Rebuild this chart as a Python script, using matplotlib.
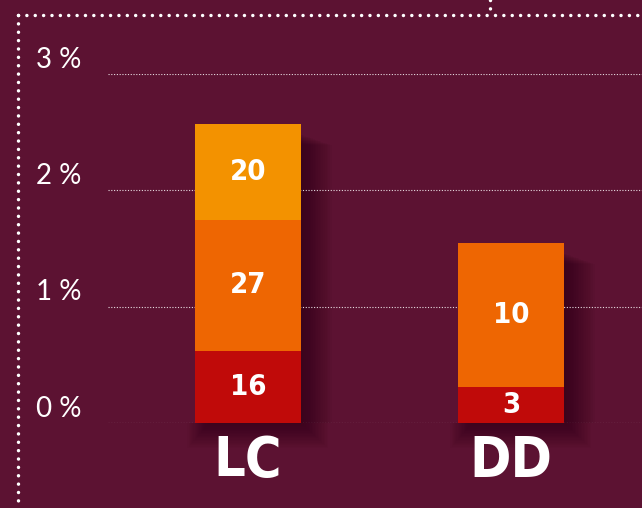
import matplotlib.pyplot as plt
from matplotlib.lines import Line2D
from matplotlib.patches import Rectangle

categories = ["LC", "DD"]
# segment heights in percent (bottom to top) and the counts printed on them
red_pct = [0.62, 0.31]
orange_pct = [1.125, 1.235]
light_pct = [0.82, 0.0]
red_counts = ["16", "3"]
orange_counts = ["27", "10"]
light_counts = ["20", ""]
tick_values = [0, 1, 2, 3]
tick_labels = ["0 %", "1 %", "2 %", "3 %"]

BG = "#5c1232"
RED = "#c00a09"
ORANGE = "#ee6602"
LIGHT = "#f39200"

W, H = 642, 508
XPX, YPX = 263, 116.5   # pixels per data unit
fig = plt.figure(figsize=(W / 100, H / 100), dpi=100, facecolor=BG)

# axes spans from pixel x=108 to the right edge, y from 0% (423px) to 3% (73.5px)
ax = fig.add_axes([108 / W, (H - 423) / H, 1 - 108 / W, (423 - 73.5) / H])
ax.set_facecolor(BG)
ax.set_ylim(0, 3)
ax.set_xlim(-(248 - 108) / XPX, (642 - 248) / XPX)
for s in ax.spines.values():
    s.set_visible(False)
ax.set_xticks([])
ax.set_yticks([])

# dotted gridlines
for v in tick_values:
    ax.axhline(v, color="white", lw=0.8, ls=(0, (1, 1.5)), alpha=0.85, zorder=4)

width = 106 / XPX
x = list(range(len(categories)))

# soft drop shadow to the right of and under each bar
totals = [r + o + l for r, o, l in zip(red_pct, orange_pct, light_pct)]
for xi, top in zip(x, totals):
    right = xi + width / 2
    left = xi - width / 2
    for k in range(1, 19):
        # right side
        ax.add_patch(Rectangle((right, 0), 1.7 * k / XPX, top - (10 + 0.6 * k) / YPX,
                               facecolor="#2a0414", edgecolor="none", alpha=0.045,
                               zorder=1, clip_on=False))
        # under the bar
        ax.add_patch(Rectangle((left + (14 - 1.2 * k) / XPX, -1.4 * k / YPX),
                               width + (1.2 * k + 1.5 * k - 14) / XPX, 1.4 * k / YPX,
                               facecolor="#2a0414", edgecolor="none", alpha=0.04,
                               zorder=1, clip_on=False))

ax.bar(x, red_pct, width, color=RED, zorder=5)
ax.bar(x, orange_pct, width, bottom=red_pct, color=ORANGE, zorder=5)
ax.bar(x, light_pct, width, bottom=[r + o for r, o in zip(red_pct, orange_pct)],
       color=LIGHT, zorder=5)

num_font = dict(family=["DejaVu Sans"], fontstretch="condensed",
                fontweight="bold", color="white", ha="center", va="center", zorder=6)
for i in x:
    ax.text(i, red_pct[i] / 2, red_counts[i], fontsize=21, **num_font)
    ax.text(i, red_pct[i] + orange_pct[i] / 2, orange_counts[i], fontsize=21, **num_font)
    if light_counts[i]:
        ax.text(i, red_pct[i] + orange_pct[i] + light_pct[i] / 2, light_counts[i],
                fontsize=21, **num_font)
    ax.text(i, -0.33, categories[i], fontsize=40, **num_font)

# y tick labels sit just above their gridlines
for v, lab in zip(tick_values, tick_labels):
    ax.text(-72 / 534, v + 6 / YPX, lab, transform=ax.get_yaxis_transform(),
            ha="left", va="baseline", fontsize=20, color="white",
            family=["Lato", "DejaVu Sans"])

# dotted frame: left edge, top edge and a short tick at the top
dot = dict(color="white", lw=2.5, ls=(0, (0.01, 2.4)), dash_capstyle="round",
           transform=fig.transFigure)
fig.add_artist(Line2D([18 / W, 18 / W], [1 - 15 / H, 0], **dot))
fig.add_artist(Line2D([18 / W, 1], [1 - 15 / H, 1 - 15 / H], **dot))
fig.add_artist(Line2D([490 / W, 490 / W], [1, 1 - 15 / H], **dot))

fig.savefig("out.png", dpi=100, facecolor=BG)
